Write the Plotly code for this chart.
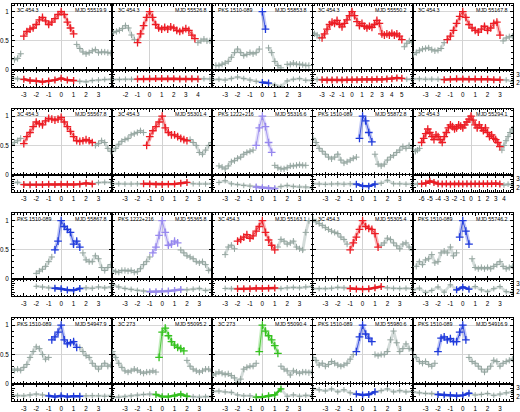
import plotly.graph_objects as go

N = None

# ---------------- time grids (days from peak) ----------------
T_A = [-4.0,-3.75,-3.5,-3.25,-3.0,-2.75,-2.5,-2.25,-2.0,-1.75,-1.5,-1.25,-1.0,-0.75,-0.5,-0.25,0.0,
       0.25,0.5,0.75,1.0,1.25,1.5,1.75,2.0,2.25,2.5,2.75,3.0,3.25,3.5,3.75,4.0]
T_B = [-3.0,-2.75,-2.5,-2.25,-2.0,-1.75,-1.5,-1.25,-1.0,-0.75,-0.5,-0.25,0.0,0.25,0.5,0.75,1.0,
       1.25,1.5,1.75,2.0,2.25,2.5,2.75,3.0,3.25,3.5,3.75,4.0,4.25,4.5,4.75,5.0]
T_C = [-4.0,-3.75,-3.5,-3.25,-3.0,-2.75,-2.5,-2.25,-2.0,-1.75,-1.5,-1.25,-1.0,-0.75,-0.5,-0.25,0.0,
       0.25,0.5,0.75,1.0,1.25,1.5,1.75,2.0,2.25,2.5,2.75,3.0,3.25,3.5,3.75,4.0,4.25,4.5,4.75,5.0,
       5.25,5.5,5.75,6.0]
T_D = [-7.0,-6.75,-6.5,-6.25,-6.0,-5.75,-5.5,-5.25,-5.0,-4.75,-4.5,-4.25,
       -4.0,-3.75,-3.5,-3.25,-3.0,-2.75,-2.5,-2.25,-2.0,-1.75,-1.5,-1.25,-1.0,-0.75,-0.5,-0.25,0.0,
       0.25,0.5,0.75,1.0,1.25,1.5,1.75,2.0,2.25,2.5,2.75,3.0,3.25,3.5,3.75,4.0,4.25,4.5,4.75,5.0]
TI_A = [-4.0,-3.5,-3.0,-2.5,-2.0,-1.5,-1.0,-0.5,0.0,0.5,1.0,1.5,2.0,2.5,3.0,3.5,4.0]
TI_B = [-3.0,-2.5,-2.0,-1.5,-1.0,-0.5,0.0,0.5,1.0,1.5,2.0,2.5,3.0,3.5,4.0,4.5,5.0]
TI_C = [-4.0,-3.5,-3.0,-2.5,-2.0,-1.5,-1.0,-0.5,0.0,0.5,1.0,1.5,2.0,2.5,3.0,3.5,4.0,4.5,5.0,5.5,6.0]
TI_D = [-7.0,-6.5,-6.0,-5.5,-5.0,-4.5,-4.0,-3.5,-3.0,-2.5,-2.0,-1.5,-1.0,-0.5,0.0,0.5,1.0,1.5,
        2.0,2.5,3.0,3.5,4.0,4.5,5.0]

# ---------------- normalised flux (upper panels) ----------------
F11 = [N,0.18,0.2,0.28,0.58,0.66,0.7,0.72,0.78,0.86,0.9,0.84,0.78,0.82,0.88,0.95,1.0,0.95,0.82,0.72,0.62,
       0.44,0.37,0.31,0.28,0.3,0.33,0.35,0.3,0.31,0.31,0.3,0.29]
F12 = [0.64,0.66,0.68,0.71,0.76,0.72,0.6,0.52,0.47,0.62,0.76,0.9,1.0,0.9,0.78,0.72,0.7,0.73,0.7,0.74,0.72,
       0.68,0.66,0.68,0.71,0.68,0.6,0.54,0.47,0.5,0.53,0.5,0.5]
F13 = [N,0.08,0.08,0.1,0.12,0.15,0.22,0.3,0.36,0.3,0.25,0.27,0.3,0.28,0.3,0.36,1.0,0.7,0.38,0.3,0.15,0.08,
       0.04,N,0.1,0.1,0.12,0.1,0.1,0.09,0.08,0.08,N]
F14 = [0.64,0.62,0.6,0.55,0.55,0.62,0.7,0.78,0.82,0.8,0.85,0.78,0.74,0.8,0.86,0.93,1.0,0.93,0.83,0.76,0.8,
       0.75,0.72,0.75,0.73,0.78,0.85,0.8,0.62,0.6,0.62,0.6,0.63,0.6,0.62,0.58,0.52,0.4,0.46,0.5,0.48]
F15 = [0.27,0.3,0.34,0.36,0.37,0.38,0.35,0.33,0.34,0.37,0.47,0.52,0.58,0.68,0.8,0.92,1.0,0.9,0.78,0.72,0.68,
       0.65,0.7,0.75,0.68,0.72,0.8,0.82,0.6,0.5,0.55,0.57,0.58]
F21 = [0.52,0.55,0.58,0.62,0.53,0.65,0.72,0.82,0.9,0.87,0.85,0.92,0.96,0.95,0.93,0.95,0.98,0.9,0.82,0.74,
       0.65,0.58,0.57,0.58,0.6,0.58,0.55,0.5,0.53,0.58,0.55,0.45,0.4]
F22 = [0.4,0.45,0.52,0.57,0.6,0.62,0.68,0.7,0.72,0.75,0.72,0.5,0.65,0.75,0.82,0.9,1.0,0.8,0.72,0.68,0.68,
       0.65,0.62,0.6,0.58,0.6,0.55,0.5,0.38,0.35,0.42,0.5,0.55]
F23 = [N,N,0.15,0.13,0.1,0.15,0.22,0.24,0.28,0.3,0.35,0.38,0.4,0.42,0.5,0.8,1.0,0.82,0.55,0.38,0.16,0.12,
       0.1,0.1,0.12,0.15,0.15,0.16,0.17,0.16,0.16,N,N]
F24 = [0.62,0.55,0.45,0.4,0.35,0.3,0.27,0.3,0.35,0.25,0.2,0.22,0.25,0.28,0.3,0.62,1.0,0.92,0.72,0.56,0.35,
       0.18,0.15,0.18,0.25,0.3,0.33,0.38,0.42,0.48,0.45,0.5,0.45]
F25 = [0.42,0.4,0.42,0.45,0.55,0.62,0.7,0.78,0.72,0.65,0.6,0.68,0.65,0.6,0.55,0.65,0.72,0.8,0.85,0.82,0.78,
       0.8,0.85,0.83,0.8,0.85,0.9,0.95,1.0,0.93,0.85,0.8,0.85,0.8,0.75,0.8,0.72,0.65,0.68,0.62,0.6,0.55,
       0.48,0.42,0.5,0.58,0.65,0.72,0.78]
F31 = [N,N,N,N,N,N,N,N,0.1,0.14,0.17,0.22,0.3,0.38,0.5,0.65,1.0,0.9,0.85,0.8,0.6,0.65,0.55,0.45,0.33,0.3,
       0.3,0.4,0.35,0.2,0.15,0.2,0.25]
F32 = [0.15,0.13,0.12,0.15,0.15,0.14,0.15,0.12,0.13,0.18,0.25,0.3,0.38,0.45,0.55,0.75,1.0,0.8,0.58,0.6,0.65,
       0.62,0.5,0.45,0.4,0.38,0.35,0.3,0.28,0.3,0.25,0.15,0.17]
F33 = [N,N,N,N,0.42,0.55,0.58,0.52,0.65,0.68,0.72,0.76,0.7,0.74,0.82,0.9,1.0,0.8,0.67,0.58,0.5,0.55,0.68,
       0.65,0.6,0.62,0.65,0.55,0.52,0.5,0.8,1.0,N]
F34 = [1.02,0.98,0.95,0.92,0.88,0.85,0.82,0.8,0.78,0.72,0.68,0.6,0.5,0.62,0.72,0.85,1.0,0.9,0.87,0.85,0.78,
       0.55,0.58,0.62,0.7,0.68,0.62,0.57,0.52,0.6,0.62,0.55,0.5]
F35 = [N,0.22,0.3,0.25,0.33,0.35,0.42,0.28,0.3,0.45,0.48,0.45,0.55,0.4,0.45,0.72,1.0,0.82,0.6,0.35,0.2,0.18,
       0.2,0.18,0.2,0.18,0.22,0.25,0.3,0.22,0.18,0.2,0.22]
F41 = [0.25,0.23,0.25,0.23,0.28,0.33,0.45,0.55,0.63,0.6,0.5,0.42,0.45,0.75,0.8,0.88,1.0,0.75,0.68,0.7,0.72,
       0.62,0.62,0.55,0.48,0.45,0.35,0.3,0.25,0.3,0.35,0.3,0.32]
F42 = [0.55,0.45,0.35,0.28,0.22,0.2,0.22,0.25,0.23,0.2,0.18,0.2,0.2,0.22,0.2,0.45,0.88,0.95,0.82,0.72,0.66,
       0.62,0.6,0.56,0.4,0.3,0.25,0.22,0.2,0.22,0.25,0.25,0.22]
F43 = [0.15,0.17,0.2,0.18,0.16,0.17,0.14,0.1,0.02,0.08,0.25,0.28,0.3,0.3,0.35,0.55,1.0,0.9,0.82,0.75,0.65,
       0.52,0.3,0.25,0.22,0.15,0.22,0.2,0.18,0.2,0.2,0.19,0.2]
F44 = [0.45,0.4,0.32,0.35,0.3,0.33,0.38,0.35,0.32,0.3,0.32,0.35,0.42,0.5,0.55,0.8,1.0,0.85,0.78,0.72,0.5,
       0.48,0.5,0.5,0.55,0.75,0.9,0.7,0.55,0.6,0.68,0.6,0.58]
F45 = [0.5,0.45,0.38,0.35,0.38,0.33,0.3,0.35,0.55,0.78,0.8,0.75,0.77,0.72,0.72,0.88,1.0,0.75,0.45,0.38,0.35,
       0.3,0.25,0.2,0.25,0.3,0.4,0.38,0.3,0.35,0.38,0.4,0.42]

# ---------------- photon index (lower panels) ----------------
IDX11 = [2.6,2.5,2.44,2.3,2.25,2.14,2.25,2.35,2.55,2.35,2.3,2.2,2.15,2.3,2.36,2.42,2.44]
IDX12 = [2.42,2.42,2.44,2.44,2.46,2.48,2.5,2.52,2.52,2.5,2.5,2.48,2.48,2.5,2.46,2.5,2.48]
IDX13 = [2.4,2.44,2.36,2.52,2.7,2.52,2.36,2.2,2.07,2.0,1.76,1.6,2.25,2.44,2.52,2.33,2.33]
IDX14 = [2.44,2.42,2.38,2.36,2.36,2.38,2.36,2.38,2.4,2.4,2.42,2.42,2.4,2.44,2.42,2.46,2.5,2.6,2.55,2.44,2.45]
IDX15 = [2.48,2.5,2.44,2.46,2.44,2.4,2.44,2.5,2.48,2.44,2.46,2.44,2.44,2.4,2.38,2.36,2.2]
IDX21 = [2.5,2.62,2.35,2.33,2.35,2.35,2.38,2.36,2.4,2.38,2.36,2.4,2.5,2.42,2.58,2.62,2.6]
IDX22 = [2.44,2.44,2.42,2.42,2.44,2.44,2.42,2.36,2.36,2.4,2.42,2.5,2.6,2.45,2.42,2.42,2.44]
IDX23 = [N,2.6,2.8,2.44,2.35,2.25,2.18,2.07,1.98,1.9,1.88,2.14,2.25,2.14,2.07,2.07,2.0]
IDX24 = [2.44,2.42,2.38,2.42,2.44,2.4,2.44,2.4,2.2,2.15,2.4,2.5,2.85,2.45,2.44,2.4,2.42]
IDX25 = [2.4,2.42,2.44,2.5,2.75,2.6,2.45,2.42,2.44,2.4,2.42,2.44,2.42,2.44,2.42,2.44,2.42,2.44,2.46,2.44,
         2.48,2.42,2.3,2.4,2.35]
IDX31 = [N,N,N,N,2.68,2.6,2.5,2.45,2.4,2.25,2.2,2.42,2.5,2.45,2.6,2.5,2.6]
IDX32 = [2.87,2.6,2.43,2.32,2.2,2.13,2.05,2.05,2.08,2.12,2.2,2.3,2.28,2.35,2.43,2.2,2.3]
IDX33 = [N,N,2.43,2.4,2.38,2.38,2.4,2.45,2.42,2.45,2.48,2.42,2.5,2.55,2.5,2.6,2.65]
IDX34 = [2.4,2.42,2.4,2.45,2.55,2.5,2.42,2.36,2.35,2.38,2.5,2.65,2.5,2.44,2.42,2.45,2.42]
IDX35 = [2.27,2.46,1.95,2.2,2.6,2.0,2.85,2.27,2.58,2.35,2.65,2.27,2.05,2.4,2.65,2.05,1.95]
IDX41 = [2.15,2.12,2.1,2.2,2.3,2.2,2.1,2.0,2.1,2.0,2.05,2.05,2.1,2.12,2.1,2.05,2.1]
IDX42 = [1.9,1.95,2.0,2.1,2.18,2.25,2.3,2.25,2.0,2.0,2.1,2.28,2.05,2.0,1.95,2.0,2.0]
IDX43 = [2.6,2.65,2.55,2.5,2.2,2.1,2.1,1.95,1.95,2.1,2.2,2.9,2.05,2.2,2.05,2.15,2.1]
IDX44 = [2.93,2.8,2.67,2.9,2.56,2.8,2.45,2.3,2.2,2.25,2.56,2.7,2.9,2.56,2.7,2.56,2.6]
IDX45 = [2.55,2.45,2.37,2.35,2.25,2.2,2.15,2.1,2.15,2.4,2.2,2.25,2.37,2.15,2.3,2.45,2.55]

# ---------------- panel labels and flare intervals ----------------
SOURCES = ["3C 454.3","3C 454.3","PKS 1510-089","3C 454.3","3C 454.3",
           "3C 454.3","3C 454.3","PKS 1222+216","PKS 1510-089","3C 454.3",
           "PKS 1510-089","PKS 1222+216","3C 454.3","3C 454.3","PKS 1510-089",
           "PKS 1510-089","3C 273","3C 273","PKS 1510-089","PKS 1510-089"]
MJDS = ["55519.9","55526.8","55853.8","55550.2","55167.8",
        "55567.8","55301.4","55316.6","55872.8","55294.1",
        "55867.8","55365.8","55163.1","55305.4","55746.2",
        "54947.9","55095.2","55090.4","55980.6","54916.9"]
FLARE_START = [-3.0,-1.0,0.0,-3.0,-1.25, -3.0,-1.25,-0.5,-0.25,-6.0,
               -0.5,-0.75,-2.0,-1.0,-0.25, -0.75,-0.25,-0.25,-0.5,-2.0]
FLARE_END = [1.0,3.75,0.25,5.0,3.0, 2.5,2.0,0.75,0.75,3.5,
             1.5,1.25,1.0,1.25,0.5, 1.25,1.75,1.25,0.75,0.25]
XTICKS_STD = ["-3","-2","-1","0","1","2","3"]
XTICKS_B = ["-2","-1","0","1","2","3","4"]
XTICKS_C = ["-3","-2","-1","0","1","2","3","4","5"]
XTICKS_D = ["-6","-5","-4","-3","-2","-1","0","1","2","3","4"]
YTICKS_MAIN = ["0","0.5","1"]
YTICKS_SUB = ["2","3"]

FLUX = [F11,F12,F13,F14,F15,F21,F22,F23,F24,F25,F31,F32,F33,F34,F35,F41,F42,F43,F44,F45]
INDEX = [IDX11,IDX12,IDX13,IDX14,IDX15,IDX21,IDX22,IDX23,IDX24,IDX25,
         IDX31,IDX32,IDX33,IDX34,IDX35,IDX41,IDX42,IDX43,IDX44,IDX45]
TGRID = [T_A,T_B,T_A,T_C,T_A, T_A,T_A,T_A,T_A,T_D] + [T_A]*10
TIGRID = [TI_A,TI_B,TI_A,TI_C,TI_A, TI_A,TI_A,TI_A,TI_A,TI_D] + [TI_A]*10
XTL = [XTICKS_STD,XTICKS_B,XTICKS_STD,XTICKS_C,XTICKS_STD,
       XTICKS_STD,XTICKS_STD,XTICKS_STD,XTICKS_STD,XTICKS_D] + [XTICKS_STD]*10

COLOR = {"3C 454.3": "#ec1c24", "PKS 1510-089": "#1f3adb",
         "PKS 1222+216": "#9788ee", "3C 273": "#35c21f"}
BAND = {"3C 454.3": "rgba(236,28,36,0.28)", "PKS 1510-089": "rgba(31,58,219,0.28)",
        "PKS 1222+216": "rgba(151,136,238,0.28)", "3C 273": "rgba(53,194,31,0.28)"}
GRAY = "#94a59f"
GRAY_BAND = "rgba(160,178,172,0.45)"
FONT = "Liberation Sans"

W, H = 520, 412
COL_LEFT = [11.0, 111.4, 211.8, 312.2, 412.6]
COL_W = 100.4


def xrange_for(p, c):
    special = {1: [-3.1, 5.2], 3: [-3.95, 6.1], 9: [-7.07, 5.1]}
    if p in special:
        return special[p]
    return [-3.95, 4.1] if c == 0 else [-4.03, 4.05]


fig = go.Figure()
layout = {}
annotations = []

for p in range(20):
    r, c = divmod(p, 5)
    m, s = 2 * p + 1, 2 * p + 2
    xm, ym = f"x{m}", f"y{m}"
    xs, ys = f"x{s}", f"y{s}"
    src = SOURCES[p]
    a, b = FLARE_START[p], FLARE_END[p]
    t, f = TGRID[p], FLUX[p]
    ti, ix = TIGRID[p], INDEX[p]

    gray_y = [v if (v is not None and (tt < a - 1e-6 or tt > b + 1e-6)) else None for tt, v in zip(t, f)]
    col_t = [tt for tt, v in zip(t, f) if v is not None and a - 1e-6 <= tt <= b + 1e-6]
    col_y = [v for tt, v in zip(t, f) if v is not None and a - 1e-6 <= tt <= b + 1e-6]

    # upper panel: gray light curve
    fig.add_trace(go.Scatter(x=t, y=gray_y, xaxis=xm, yaxis=ym, mode="lines", showlegend=False,
                             line=dict(color=GRAY_BAND, width=3.0), hoverinfo="skip"))
    fig.add_trace(go.Scatter(x=t, y=gray_y, xaxis=xm, yaxis=ym, mode="markers", showlegend=False,
                             marker=dict(symbol="cross-thin", size=4.5, line=dict(color=GRAY, width=1.0))))
    # upper panel: flare
    fig.add_trace(go.Scatter(x=col_t, y=col_y, xaxis=xm, yaxis=ym, mode="lines", showlegend=False,
                             line=dict(color=BAND[src], width=4), hoverinfo="skip"))
    fig.add_trace(go.Scatter(x=col_t, y=col_y, xaxis=xm, yaxis=ym, mode="lines+markers", showlegend=False,
                             line=dict(color=COLOR[src], width=0.8),
                             marker=dict(symbol="cross-thin", size=5.5, line=dict(color=COLOR[src], width=1.3))))

    # lower panel: index
    sc_t = [tt for tt, v in zip(ti, ix) if v is not None and a - 0.3 <= tt <= b + 0.3]
    sc_y = [v for tt, v in zip(ti, ix) if v is not None and a - 0.3 <= tt <= b + 0.3]
    fig.add_trace(go.Scatter(x=ti, y=ix, xaxis=xs, yaxis=ys, mode="lines+markers", showlegend=False,
                             line=dict(color=GRAY_BAND, width=2.6),
                             marker=dict(symbol="cross-thin", size=4, line=dict(color=GRAY, width=1))))
    fig.add_trace(go.Scatter(x=sc_t, y=sc_y, xaxis=xs, yaxis=ys, mode="lines+markers", showlegend=False,
                             line=dict(color=COLOR[src], width=2.4),
                             marker=dict(symbol="cross-thin", size=5, line=dict(color=COLOR[src], width=1.3))))

    left = COL_LEFT[c]
    right = left + COL_W
    top = 4.0 + 105.3 * r
    sep = top + 66.7
    bot = sep + 17.3
    xd = [left / W, right / W]
    xr = xrange_for(p, c)
    tickvals = [float(v) for v in XTL[p]]

    base_x = dict(domain=xd, range=xr, tickmode="array", tickvals=tickvals, ticktext=XTL[p],
                  ticks="inside", ticklen=3, tickwidth=0.8, tickcolor="black",
                  mirror="allticks", showline=True, linecolor="black", linewidth=1,
                  zeroline=True, zerolinecolor="#d2d2d2", zerolinewidth=1, showgrid=False,
                  tickfont=dict(family=FONT, size=6.3, color="black"),
                  minor=dict(ticks="inside", ticklen=1.6, dtick=0.25, tick0=0,
                             tickcolor="black", tickwidth=0.6))
    layout[f"xaxis{m}"] = dict(base_x, anchor=ym, showticklabels=False)
    layout[f"xaxis{s}"] = dict(base_x, anchor=ys, showticklabels=True, ticklabelstandoff=1)

    layout[f"yaxis{m}"] = dict(domain=[1 - sep / H, 1 - top / H], range=[0, 1.13], anchor=xm,
                               tickmode="array", tickvals=[0, 0.5, 1], ticktext=YTICKS_MAIN,
                               ticks="inside", ticklen=3, tickwidth=0.8, tickcolor="black",
                               mirror="allticks", showline=True, linecolor="black", linewidth=1,
                               showgrid=True, gridcolor="#d6d6d6", gridwidth=1, zeroline=False,
                               showticklabels=(c == 0), ticklabelstandoff=1,
                               tickfont=dict(family=FONT, size=6.3, color="black"),
                               minor=dict(ticks="inside", ticklen=1.6, dtick=0.1, tick0=0,
                                          tickcolor="black", tickwidth=0.6))
    layout[f"yaxis{s}"] = dict(domain=[1 - bot / H, 1 - sep / H], range=[1.5, 3.5], anchor=xs,
                               side="right", tickmode="array", tickvals=[2, 3], ticktext=YTICKS_SUB,
                               ticks="inside", ticklen=3, tickwidth=0.8, tickcolor="black",
                               mirror="allticks", showline=True, linecolor="black", linewidth=1,
                               showgrid=False, zeroline=False, showticklabels=(c == 4),
                               ticklabelstandoff=1,
                               tickfont=dict(family=FONT, size=6.3, color="black"),
                               minor=dict(ticks="inside", ticklen=1.6, dtick=0.25, tick0=0,
                                          tickcolor="black", tickwidth=0.6))

    annotations.append(dict(xref="paper", yref="paper", x=(left + 3.5) / W, y=1 - (top + 1.0) / H,
                            xanchor="left", yanchor="top", showarrow=False, text=src,
                            font=dict(family=FONT, size=5.3, color="black")))
    annotations.append(dict(xref="paper", yref="paper", x=(right - 3.5) / W, y=1 - (top + 1.0) / H,
                            xanchor="right", yanchor="top", showarrow=False, text="MJD " + MJDS[p],
                            font=dict(family=FONT, size=5.3, color="black")))

layout["xaxis"] = layout.pop("xaxis1")
layout["yaxis"] = layout.pop("yaxis1")

fig.update_layout(**layout)
fig.update_layout(width=W, height=H, autosize=False,
                  margin=dict(l=0, r=0, t=0, b=0, pad=0),
                  paper_bgcolor="white", plot_bgcolor="white",
                  showlegend=False, annotations=annotations,
                  font=dict(family=FONT, size=6.3, color="black"))

fig.write_html("out.html", config={"displayModeBar": False})

# remove the browser's default page margin so the 520x412 figure fills the window exactly
with open("out.html", "r", encoding="utf-8") as fh:
    html = fh.read()
html = html.replace("<head>", "<head><style>html,body{margin:0;padding:0;overflow:hidden;}</style>", 1)
with open("out.html", "w", encoding="utf-8") as fh:
    fh.write(html)
